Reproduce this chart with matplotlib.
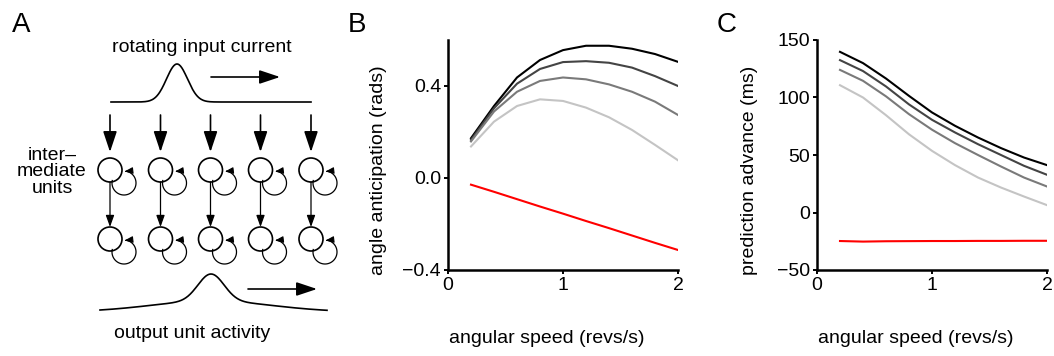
import matplotlib

matplotlib.use("Agg")
import matplotlib.pyplot as plt
import numpy as np
from matplotlib.patches import Circle

plt.rcParams.update({"font.family": ["Liberation Sans", "DejaVu Sans"], "font.size": 14})

# --- data --------------------------------------------------------------------------
speed = [0.2, 0.4, 0.6, 0.8, 1.0, 1.2, 1.4, 1.6, 1.8, 2.0]
gray_colors = ["#000000", "#444444", "#7a7a7a", "#c4c4c4"]

angle_gray = [
    [0.173, 0.313, 0.437, 0.513, 0.556, 0.575, 0.575, 0.562, 0.539, 0.505],
    [0.166, 0.303, 0.410, 0.474, 0.504, 0.508, 0.501, 0.480, 0.443, 0.400],
    [0.159, 0.289, 0.375, 0.422, 0.437, 0.429, 0.407, 0.375, 0.332, 0.274],
    [0.137, 0.245, 0.313, 0.342, 0.335, 0.306, 0.264, 0.209, 0.144, 0.077],
]
angle_red = [-0.029, -0.060, -0.092, -0.124, -0.155, -0.187, -0.218, -0.250, -0.282, -0.313]

advance_gray = [
    [139.7, 129.9, 116.5, 101.4, 87.0, 75.4, 65.2, 56.0, 47.8, 41.2],
    [132.5, 123.0, 109.6, 94.0, 80.6, 69.6, 59.4, 50.0, 40.6, 32.8],
    [124.0, 114.5, 101.0, 85.5, 72.0, 60.3, 50.0, 40.0, 30.4, 22.6],
    [110.7, 100.0, 84.6, 68.0, 53.6, 41.2, 30.4, 21.7, 13.9, 6.4],
]
advance_red = [-24.8, -25.3, -25.0, -24.9, -24.8, -24.8, -24.7, -24.7, -24.6, -24.6]

W, H = 1054, 356
fig = plt.figure(figsize=(W / 100, H / 100), dpi=100)

# --- panel A: schematic, drawn in pixel coordinates ----------------------------------
axA = fig.add_axes([0, 0, 340 / W, 1])
axA.set_xlim(0, 340); axA.set_ylim(H, 0); axA.axis("off")

lw = 1.2
xs = np.linspace(111, 311, 300)
axA.plot(xs, 102 - 38 * np.exp(-(xs - 177) ** 2 / (2 * 10.5 ** 2)), "k-", lw=lw)
xb = np.linspace(100, 327, 300)
axA.plot(xb, 312 - 27 * np.exp(-(xb - 211) ** 2 / (2 * 13 ** 2))
         - 11 * np.exp(-(xb - 211) ** 2 / (2 * 60 ** 2)), "k-", lw=lw)

big = dict(arrowstyle="-|>,head_length=0.9,head_width=0.3", color="k", lw=lw, shrinkA=0, shrinkB=0)
small = dict(arrowstyle="-|>,head_length=0.5,head_width=0.18", color="k", lw=0.9, shrinkA=0, shrinkB=0)
tiny = dict(arrowstyle="-|>,head_length=0.35,head_width=0.14", color="k", lw=0.8, shrinkA=0, shrinkB=0)
axA.annotate("", xy=(280, 77), xytext=(211, 77), arrowprops=big)
axA.annotate("", xy=(317, 289), xytext=(248, 289), arrowprops=big)

r = 12
for cx in [110, 160.5, 210.5, 260.5, 311]:
    axA.annotate("", xy=(cx, 152), xytext=(cx, 115), arrowprops=big)
    axA.annotate("", xy=(cx, 239 - r), xytext=(cx, 170 + r), arrowprops=small)
    for cy in [170, 239]:
        axA.add_patch(Circle((cx, cy), r, fill=False, ec="k", lw=lw))
        th = np.radians(np.linspace(192, -78, 80))
        lx, ly = cx + 14 + 12 * np.cos(th), cy + 13 + 12 * np.sin(th)
        axA.plot(lx, ly, "k-", lw=0.9)
        axA.annotate("", xy=(cx + 14.5, cy + 1.5), xytext=(lx[-1], ly[-1]), arrowprops=tiny)

axA.text(12, 25, "A", fontsize=20, ha="left", va="center")
axA.text(202, 47, "rotating input current", ha="center", va="center")
axA.text(192, 333, "output unit activity", ha="center", va="center")
axA.text(52, 172, "inter\u2013\nmediate\nunits", ha="center", va="center", linespacing=0.95)


# --- panels B and C -----------------------------------------------------------------
def style(ax):
    for s in ("top", "right"):
        ax.spines[s].set_visible(False)
    for s in ("left", "bottom"):
        ax.spines[s].set_linewidth(1.8)
    ax.tick_params(direction="out", length=3, width=1.4, labelsize=14, pad=2)
    ax.set_xlim(0, 2); ax.set_xticks([0, 1, 2])


axB = fig.add_axes([448 / W, (H - 270) / H, 230 / W, 230 / H])
for c, y in zip(gray_colors, angle_gray):
    axB.plot(speed, y, color=c, lw=1.5)
axB.plot(speed, angle_red, color="#ff0000", lw=1.5)
style(axB)
axB.set_ylim(-0.4, 0.6); axB.set_yticks([-0.4, 0.0, 0.4])
axB.set_yticklabels(["\u22120.4", "0.0", "0.4"])
axB.set_xlabel("angular speed (revs/s)"); axB.xaxis.set_label_coords(0.43, -0.26)
axB.set_ylabel("angle anticipation (rads)"); axB.yaxis.set_label_coords(-0.265, 0.435)
fig.text(348 / W, 1 - 25 / H, "B", fontsize=20, ha="left", va="center")

axC = fig.add_axes([817 / W, (H - 270) / H, 230 / W, 230 / H])
for c, y in zip(gray_colors, advance_gray):
    axC.plot(speed, y, color=c, lw=1.5)
axC.plot(speed, advance_red, color="#ff0000", lw=1.5)
style(axC)
axC.set_ylim(-50, 150); axC.set_yticks([-50, 0, 50, 100, 150])
axC.set_yticklabels(["\u221250", "0", "50", "100", "150"])
axC.set_xlabel("angular speed (revs/s)"); axC.xaxis.set_label_coords(0.43, -0.26)
axC.set_ylabel("prediction advance (ms)"); axC.yaxis.set_label_coords(-0.257, 0.435)
fig.text(717 / W, 1 - 25 / H, "C", fontsize=20, ha="left", va="center")

fig.savefig("out.png", dpi=100)
